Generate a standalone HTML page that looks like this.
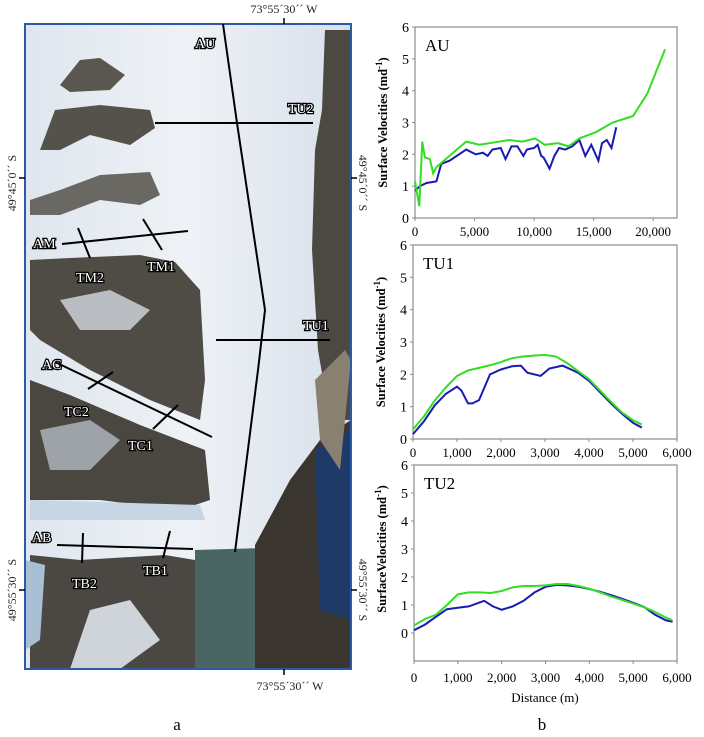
<!DOCTYPE html>
<html><head><meta charset="utf-8"><style>
body{margin:0;background:#fff;}
svg{display:block;font-family:"Liberation Serif",serif;}
</style></head><body>
<svg id="fig" width="704" height="737" viewBox="0 0 704 737" xmlns="http://www.w3.org/2000/svg">
<g>
  <defs>
    <clipPath id="mc"><rect x="25" y="24" width="326" height="645"/></clipPath>
    <linearGradient id="ice" x1="0" y1="0" x2="1" y2="0">
      <stop offset="0" stop-color="#dfe6ee"/><stop offset="0.5" stop-color="#eef2f6"/><stop offset="1" stop-color="#d8e0ea"/>
    </linearGradient>
  </defs>
  <g clip-path="url(#mc)">
    <rect x="25" y="24" width="326" height="645" fill="url(#ice)"/>
    <path d="M60 85 L80 60 L100 58 L125 75 L110 90 L70 92Z" fill="#5a5650"/>
    <path d="M40 150 L55 110 L100 105 L150 110 L155 128 L130 145 L90 135 L60 150Z" fill="#55514b"/>
    <path d="M30 200 L60 190 L100 175 L150 172 L160 195 L140 205 L100 200 L60 215 L30 215Z" fill="#6a6862"/>
    <path d="M30 260 L70 258 L140 255 L175 262 L200 290 L205 380 L200 420 L150 400 L90 370 L40 340 L30 330Z" fill="#4f4b45"/>
    <path d="M30 380 L70 395 L140 425 L205 450 L210 500 L180 510 L100 500 L30 500Z" fill="#4a4640"/>
    <path d="M60 300 L110 290 L150 310 L130 330 L80 330Z" fill="#b9bcc0"/>
    <path d="M40 430 L90 420 L120 440 L90 470 L50 470Z" fill="#9ea3aa"/>
    <path d="M30 500 L200 505 L205 520 L30 520Z" fill="#c7d6e4"/>
    <path d="M30 555 L80 560 L165 555 L195 560 L200 669 L30 669Z" fill="#4b4742"/>
    <path d="M90 610 L130 600 L160 640 L120 669 L70 669Z" fill="#cfd4da"/>
    <path d="M25 560 L45 565 L40 640 L25 650Z" fill="#a9bfd4"/>
    <path d="M195 550 L265 548 L260 669 L195 669Z" fill="#4b6563"/>
    <path d="M255 545 L290 480 L320 440 L351 420 L351 669 L255 669Z" fill="#3b3530"/>
    <path d="M315 450 L351 430 L351 620 L320 610 Z" fill="#1f3a66"/>
    <path d="M325 30 L351 30 L351 420 L330 420 L318 350 L312 250 L315 150 L322 110Z" fill="#4c4842"/>
    <path d="M315 380 L345 350 L351 360 L340 470 L320 440Z" fill="#8a8070"/>
  </g>
  <rect x="25" y="24" width="326" height="645" fill="none" stroke="#2a5aa8" stroke-width="2"/>
  <g stroke="#000" stroke-width="2" fill="none">
    <polyline points="223,24 237,123 265,310 258,370 235,552"/>
    <line x1="155" y1="123" x2="313" y2="123"/>
    <line x1="216" y1="340" x2="330" y2="340"/>
    <line x1="62" y1="244" x2="188" y2="231"/>
    <line x1="78" y1="228" x2="90" y2="258"/>
    <line x1="143" y1="219" x2="162" y2="250"/>
    <line x1="55" y1="362" x2="212" y2="437"/>
    <line x1="88" y1="389" x2="113" y2="372"/>
    <line x1="153" y1="429" x2="178" y2="405"/>
    <line x1="57" y1="545" x2="193" y2="549"/>
    <line x1="83" y1="533" x2="82" y2="563"/>
    <line x1="170" y1="531" x2="163" y2="558"/>
  </g>
  <g font-size="14" fill="#fff" stroke="#000" stroke-width="2.5" paint-order="stroke">
    <text x="195" y="48">AU</text><text x="288" y="113">TU2</text>
    <text x="33" y="248">AM</text><text x="76" y="282">TM2</text><text x="147" y="271">TM1</text>
    <text x="303" y="330">TU1</text><text x="42" y="369">AC</text>
    <text x="64" y="416">TC2</text><text x="128" y="450">TC1</text>
    <text x="32" y="542">AB</text><text x="72" y="588">TB2</text><text x="143" y="575">TB1</text>
  </g>
  <g font-size="12" fill="#222">
    <text x="284" y="13" text-anchor="middle">73°55´30´´ W</text>
    <text x="290" y="690" text-anchor="middle">73°55´30´´ W</text>
    <text transform="translate(16,183) rotate(-90)" text-anchor="middle">49°45´0´´ S</text>
    <text transform="translate(16,590) rotate(-90)" text-anchor="middle">49°55´30´´ S</text>
    <text transform="translate(359,183) rotate(90)" text-anchor="middle">49°45´0´´ S</text>
    <text transform="translate(359,590) rotate(90)" text-anchor="middle">49°55´30´´ S</text>
    <g stroke="#000" stroke-width="1.5">
      <line x1="284" y1="18" x2="284" y2="24"/><line x1="284" y1="669" x2="284" y2="675"/>
      <line x1="19" y1="178" x2="25" y2="178"/><line x1="19" y1="590" x2="25" y2="590"/>
      <line x1="351" y1="178" x2="357" y2="178"/><line x1="351" y1="590" x2="357" y2="590"/>
    </g>
  </g>
  <text x="177" y="730" font-size="17" text-anchor="middle">a</text>
</g>
<g id="charts"></g>
<text x="542" y="730" font-size="17" text-anchor="middle">b</text>
<text x="545" y="702" font-size="13" text-anchor="middle">Distance (m)</text>
</svg>
<script>
const auGreenX=[0,360,610,830,1250,1530,1800,3200,4300,5400,6250,7900,9000,10100,10900,12000,12900,13800,15200,16600,18300,19500,21000];
const auGreenY=[1.15,0.37,2.4,1.9,1.85,1.4,1.6,2.05,2.4,2.3,2.35,2.45,2.4,2.5,2.3,2.35,2.25,2.5,2.7,3.0,3.2,3.9,5.3];
const auBlueX=[0,400,970,1800,2200,2900,4300,5100,5700,6100,6500,7200,7600,8100,8600,9100,9400,10000,10300,10600,10800,11300,11700,12100,12600,13200,13800,14300,14800,15100,15400,15700,16100,16500,16900];
const auBlueY=[0.85,1.0,1.1,1.15,1.7,1.8,2.15,2.0,2.05,1.95,2.15,2.2,1.85,2.25,2.25,1.95,2.15,2.2,2.3,1.95,1.9,1.55,1.95,2.2,2.15,2.25,2.45,1.95,2.3,2.05,1.8,2.35,2.45,2.2,2.85];
const tu1GreenX=[0,250,500,750,1000,1250,1500,1750,2000,2250,2500,2750,3000,3250,3500,3750,4000,4250,4500,4750,5000,5200];
const tu1GreenY=[0.3,0.7,1.2,1.6,1.95,2.12,2.2,2.28,2.38,2.5,2.55,2.58,2.6,2.55,2.35,2.1,1.85,1.5,1.15,0.82,0.58,0.45];
const tu1BlueX=[0,250,500,750,1000,1100,1250,1350,1500,1750,2000,2250,2450,2600,2900,3100,3400,3750,4000,4250,4500,4750,5000,5200];
const tu1BlueY=[0.15,0.55,1.05,1.4,1.62,1.5,1.1,1.1,1.2,2.0,2.15,2.25,2.27,2.05,1.95,2.18,2.27,2.05,1.8,1.45,1.1,0.78,0.5,0.35];
const tu2GreenX=[0,250,500,750,1000,1250,1500,1750,2000,2250,2500,2750,3000,3250,3500,3750,4000,4250,4500,4750,5000,5250,5500,5750,5900];
const tu2GreenY=[0.27,0.5,0.65,1.0,1.38,1.45,1.45,1.43,1.5,1.63,1.68,1.68,1.7,1.75,1.75,1.68,1.58,1.45,1.3,1.18,1.05,0.92,0.75,0.55,0.45];
const tu2BlueX=[0,250,500,750,1000,1250,1600,1800,2000,2250,2500,2750,3000,3250,3500,3750,4000,4250,4500,4750,5000,5250,5500,5750,5900];
const tu2BlueY=[0.1,0.3,0.58,0.85,0.9,0.95,1.15,0.95,0.83,0.95,1.15,1.45,1.65,1.72,1.7,1.65,1.57,1.47,1.35,1.22,1.08,0.93,0.65,0.45,0.4];
const auXTicks=[0,5000,10000,15000,20000];
const tuXTicks=[0,1000,2000,3000,4000,5000,6000];
const yTicks=[0,1,2,3,4,5,6];

const NS="http://www.w3.org/2000/svg";
const root=document.getElementById('charts');
function mk(tag,attrs,parent){const e=document.createElementNS(NS,tag);for(const k in attrs)e.setAttribute(k,attrs[k]);parent.appendChild(e);return e;}
function fmt(v){return v.toLocaleString('en-US');}
function chart(name,title,L,R,T,B,xmax,ymin,ymax,xticks,gx,gy,bx,by,labelY,ytitle){
  const g=mk('g',{},root);
  
  
  const sx=v=>L+(R-L)*v/xmax, sy=v=>B-(B-T)*(v-ymin)/(ymax-ymin);
  const fr=mk('rect',{x:L,y:T,width:R-L,height:B-T,fill:'none',stroke:'#8c8c8c','stroke-width':1.2},g);
  
  
  yTicks.forEach(t=>{
    const tx=mk('text',{x:L-6,y:sy(t)+5,'font-size':14,'text-anchor':'end',fill:'#000'},g);tx.textContent=t;
    
    
    mk('line',{x1:L-3,x2:L,y1:sy(t),y2:sy(t),stroke:'#8c8c8c'},g);
  });
  xticks.forEach(t=>{
    const tx=mk('text',{x:sx(t),y:labelY,'font-size':13,'text-anchor':'middle',fill:'#000'},g);tx.textContent=fmt(t);
    
    
    mk('line',{x1:sx(t),x2:sx(t),y1:B,y2:B+3,stroke:'#8c8c8c'},g);
  });
  const tt=mk('text',{x:L+10,y:T+24,'font-size':17,fill:'#000'},g);tt.textContent=title;
  
  
  const yt=mk('text',{transform:`translate(${L-28},${(T+sy(0))/2}) rotate(-90)`,'font-size':12.5,'font-weight':'bold','text-anchor':'middle',fill:'#000'},g);
  yt.innerHTML=ytitle+' (md<tspan dy="-5" font-size="9">-1</tspan><tspan dy="5">)</tspan>';
  
  
  const pb=mk('polyline',{points:bx.map((x,i)=>sx(x)+','+sy(by[i])).join(' '),fill:'none',stroke:'#1a1ab4','stroke-width':2},g);
  
  
  const pg=mk('polyline',{points:gx.map((x,i)=>sx(x)+','+sy(gy[i])).join(' '),fill:'none',stroke:'#33dd22','stroke-width':2},g);
  
  
}
chart('chart-au','AU',415,677,27,218,22000,0,6,auXTicks,auGreenX,auGreenY,auBlueX,auBlueY,236,'Surface Velocities');
chart('chart-tu1','TU1',413,677,245,439,6000,0,6,tuXTicks,tu1GreenX,tu1GreenY,tu1BlueX,tu1BlueY,457,'Surface Velocities');
chart('chart-tu2','TU2',414,677,465,661,6000,-1,6,tuXTicks,tu2GreenX,tu2GreenY,tu2BlueX,tu2BlueY,682,'SurfaceVelocities');
</script>
</body></html>
